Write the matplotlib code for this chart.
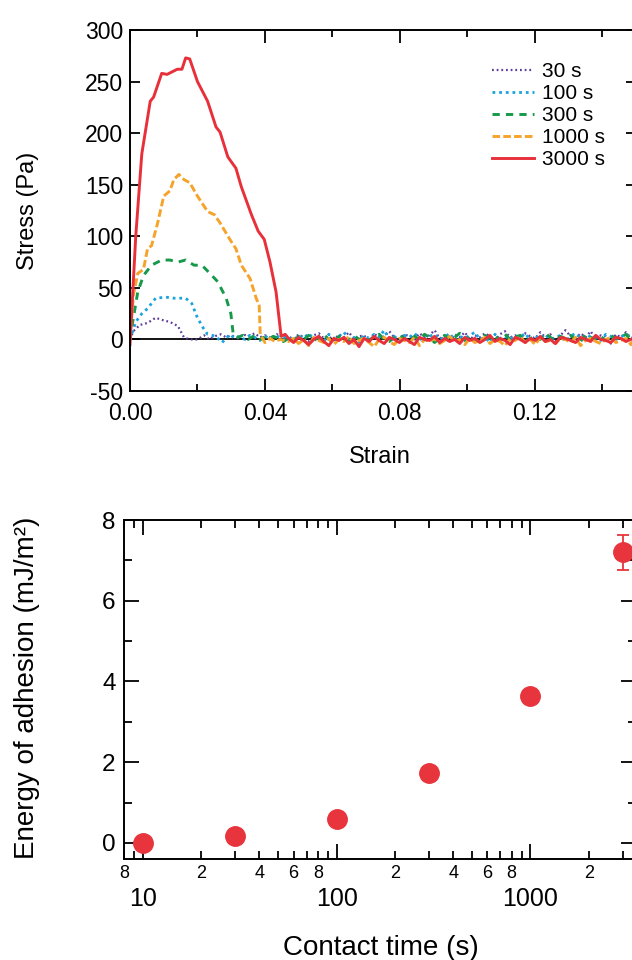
import numpy as np
import matplotlib
matplotlib.use("Agg")
import matplotlib.pyplot as plt
from matplotlib.ticker import MultipleLocator, LogLocator, FuncFormatter

plt.rcParams['font.family'] = ['Liberation Sans', 'DejaVu Sans']
plt.rcParams['axes.unicode_minus'] = False

# ---- top panel: stress-strain curves ----
labels = ['30 s', '100 s', '300 s', '1000 s', '3000 s']
colors = ['#5e3c99', '#1aa3dd', '#16994a', '#f5a32a', '#e8303a']

s30_x = [0, 0.001, 0.0029, 0.0052, 0.0076, 0.0094, 0.0118, 0.0142, 0.016, 0.0177,
         0.020, 0.022, 0.0235, 0.025, 0.027, 0.0285, 0.030, 0.032, 0.0335, 0.035,
         0.037, 0.0385, 0.040, 0.042, 0.0435, 0.045]
s30_y = [0, 8, 14, 16, 21, 19, 17, 13, 2, 0, 0, 4, 0, 3, 5, 2, 4, 1, 5, 3, 6, 2, 4, 1, 5, 3]

s100_x = [0, 0.0017, 0.0035, 0.0052, 0.0076, 0.0106, 0.013, 0.0165, 0.0183, 0.020,
          0.0219, 0.023, 0.0255, 0.0273, 0.0296, 0.031, 0.0325, 0.034, 0.0355, 0.037,
          0.0385, 0.040, 0.0415, 0.043, 0.0445]
s100_y = [0, 17, 25, 30, 40, 41, 40, 40, 35, 21, 10, 5, 3, -3, 5, 1, 3, 0, 4, 2, -1, 3, 1, 4, 2]

s300_x = [0, 0.0008, 0.0023, 0.004, 0.0064, 0.0094, 0.0118, 0.0142, 0.0165, 0.019,
          0.0213, 0.0237, 0.026, 0.0285, 0.0299, 0.0306, 0.032, 0.0335, 0.035, 0.0365,
          0.038, 0.0395, 0.041, 0.0425, 0.044, 0.0455]
s300_y = [0, 17, 46, 62, 72, 77, 77, 75, 77, 72, 72, 64, 56, 40, 25, 5, 2, 4, 0, 3, -1, 2, 0, 3, 1, -2]

s1000_x = [0, 0.001, 0.0023, 0.004, 0.0052, 0.0064, 0.0082, 0.010, 0.0118, 0.013,
           0.0145, 0.016, 0.0177, 0.020, 0.023, 0.025, 0.0267, 0.0296, 0.0314, 0.033,
           0.0356, 0.0374, 0.0383, 0.0386, 0.040, 0.0415, 0.043, 0.0445]
s1000_y = [0, 43, 64, 68, 88, 91, 113, 139, 144, 155, 160, 155, 152, 139, 124, 121, 113,
           97, 88, 72, 59, 40, 33, 5, -3, 1, -2, 0]

s3000_x = [0, 0.0017, 0.0035, 0.006, 0.007, 0.0094, 0.011, 0.014, 0.0154, 0.0165,
           0.0177, 0.020, 0.023, 0.0255, 0.0267, 0.029, 0.0314, 0.033, 0.036, 0.038,
           0.0398, 0.0415, 0.0433, 0.0448, 0.046]
s3000_y = [-5, 100, 180, 231, 235, 258, 257, 262, 262, 273, 272, 250, 231, 206, 201, 177,
           166, 148, 121, 105, 97, 75, 46, 3, 5]

# baseline after detachment (noisy)
tail_x = np.linspace(0.047, 0.15, 70)
tail30 = [3, 0, 5, 2, -2, 4, 6, 1, 3, -1,
          5, 2, 7, 0, 3, 4, -2, 6, 1, 3,
          8, 2, -1, 5, 3, 0, 6, 2, 4, 9,
          1, 3, -3, 5, 2, 7, 0, 4, 2, 6,
          3, -1, 5, 8, 2, 4, 0, 6, 3, 1,
          7, 2, 5, -2, 4, 9, 3, 1, 6, 2,
          8, 0, 4, 3, -4, 5, 2, 7, 1, -6]
tail100 = [2, -1, 4, 1, 6, 0, 3, -2, 5, 1,
           3, 7, 0, 2, -3, 4, 1, 5, 2, 9,
           0, 3, -1, 4, 2, 6, 1, -2, 3, 5,
           0, 2, 6, -1, 3, 1, 4, 7, 0, 2,
           -3, 5, 1, 3, 0, 4, 2, 6, -1, 3,
           1, 5, 0, 2, 4, -2, 3, 6, 1, 0,
           4, 2, -1, 5, 3, 0, 2, 6, 1, 3]
tail300 = [1, -2, 3, 0, 4, -1, 2, 5, 0, -3,
           3, 1, -2, 4, 0, 2, -1, 3, 5, 0,
           -2, 2, 4, 1, -1, 3, 0, 5, 2, -3,
           1, 4, 0, 2, 6, -1, 3, 0, -2, 4,
           1, 3, -1, 5, 0, 2, 4, -2, 1, 3,
           0, 6, 2, -1, 3, 1, 4, 0, -2, 5,
           2, 0, 3, -1, 4, 1, 2, 5, 0, 3]
tail1000 = [-2, 1, -4, 0, -6, 2, -1, -3, 1, -5,
            0, -2, 3, -4, -1, 1, -3, -7, 0, 2,
            -2, -5, 1, -1, -3, 2, -6, 0, -2, 1,
            -4, -1, 3, -2, 0, -5, 1, -3, -1, 2,
            -4, 0, -2, -6, 1, -1, 3, -3, 0, -5,
            2, -2, -1, -4, 1, 0, -3, 2, -6, -1,
            1, -2, -4, 0, 2, -3, -1, 1, -5, 3]
tail3000 = [1, -3, 2, -1, -5, 0, 3, -2, -6, 1,
            -1, 2, -4, 0, -7, 1, -2, 3, -1, -4,
            2, 0, -3, 1, -2, -5, 2, 0, -1, 3,
            -3, 1, -2, 0, -4, 2, -1, 1, -3, 0,
            4, -2, 1, -1, -5, 2, 0, -3, 1, -1,
            3, -2, 0, -4, 2, 1, -1, -3, 2, 0,
            -2, 4, 0, -1, -3, 2, 1, -2, 0, 3]

# ---- bottom panel: energy of adhesion ----
contact_time = [10, 30, 100, 300, 1000, 3000]
energy = [0.0, 0.18, 0.6, 1.72, 3.65, 7.2]
energy_err = [0.05, 0.05, 0.05, 0.08, 0.1, 0.43]

fig = plt.figure(figsize=(6.32, 9.6), dpi=100)
ax1 = fig.add_axes([0.2057, 0.5927, 0.8006, 0.376])
ax2 = fig.add_axes([0.1962, 0.1052, 0.810, 0.3531])

styles = [dict(ls=(0, (0.8, 1.3)), lw=1.6),
          dict(ls=(0, (1.0, 1.4)), lw=2.0),
          dict(ls=(0, (2.5, 2.1)), lw=2.1),
          dict(ls=(0, (2.6, 1.1)), lw=2.1),
          dict(ls='-', lw=2.1)]
series = [(s30_x, s30_y, tail30), (s100_x, s100_y, tail100), (s300_x, s300_y, tail300),
          (s1000_x, s1000_y, tail1000), (s3000_x, s3000_y, tail3000)]

ax1.axhline(0, color='black', lw=1.3, zorder=1)
for (px, py, ty), c, lab, st in zip(series, colors, labels, styles):
    x = np.concatenate([px, tail_x])
    y = np.concatenate([py, ty])
    ax1.plot(x, y, color=c, label=lab, zorder=2, **st)

ax1.set_xlim(0, 0.15)
ax1.set_ylim(-50, 300)
ax1.xaxis.set_major_locator(MultipleLocator(0.04))
ax1.xaxis.set_minor_locator(MultipleLocator(0.02))
ax1.xaxis.set_major_formatter(FuncFormatter(lambda v, p: f'{v:.2f}'))
ax1.yaxis.set_major_locator(MultipleLocator(50))
ax1.tick_params(which='both', direction='in', top=True, right=True, width=1.3, labelsize=16.5)
ax1.tick_params(axis='x', which='major', length=9, pad=8)
ax1.tick_params(axis='x', which='minor', length=5)
ax1.tick_params(axis='y', which='major', length=7, pad=5)
for sp in ax1.spines.values():
    sp.set_linewidth(1.4)
ax1.set_xlabel('Strain', fontsize=17)
ax1.set_ylabel('Stress (Pa)', fontsize=17)
ax1.xaxis.set_label_coords(0.494, -0.152)
ax1.yaxis.set_label_coords(-0.18, 0.5)

leg = ax1.legend(loc='upper left', bbox_to_anchor=(0.7785, 0.9355),
                 bbox_transform=fig.transFigure, frameon=False, fontsize=15,
                 handlelength=2.0, handletextpad=0.4, labelspacing=0.15,
                 borderpad=0, borderaxespad=0)

ax2.errorbar(contact_time, energy, yerr=energy_err, fmt='o', color='#e8343c',
             ms=14, capsize=4, elinewidth=1.3, capthick=1.3, clip_on=False, zorder=3)
ax2.set_xscale('log')
ax2.set_xlim(8, 3500)
ax2.set_ylim(-0.4, 8)
ax2.yaxis.set_major_locator(MultipleLocator(2))
ax2.yaxis.set_minor_locator(MultipleLocator(1))
ax2.xaxis.set_major_locator(LogLocator(base=10, numticks=10))
ax2.xaxis.set_minor_locator(LogLocator(base=10, subs=np.arange(2, 10), numticks=20))


def minor_fmt(v, pos):
    m = int(round(v / 10 ** np.floor(np.log10(v) + 1e-9)))
    return str(m) if m in (2, 4, 6, 8) else ''


ax2.xaxis.set_minor_formatter(FuncFormatter(minor_fmt))
ax2.xaxis.set_major_formatter(FuncFormatter(lambda v, p: f'{int(round(v))}'))
ax2.tick_params(which='both', direction='in', top=True, right=True, width=1.3)
ax2.tick_params(axis='x', which='major', length=11, pad=20, labelsize=18)
ax2.tick_params(axis='x', which='minor', length=5.5, pad=4, labelsize=13)
ax2.tick_params(axis='y', which='major', length=10.5, pad=6, labelsize=17.5)
ax2.tick_params(axis='y', which='minor', length=5.5)
for sp in ax2.spines.values():
    sp.set_linewidth(1.4)
ax2.set_xlabel('Contact time (s)', fontsize=20)
ax2.set_ylabel('Energy of adhesion (mJ/m\u00b2)', fontsize=20)
ax2.xaxis.set_label_coords(0.502, -0.224)
ax2.yaxis.set_label_coords(-0.164, 0.504)

fig.savefig('out.png', dpi=100)
